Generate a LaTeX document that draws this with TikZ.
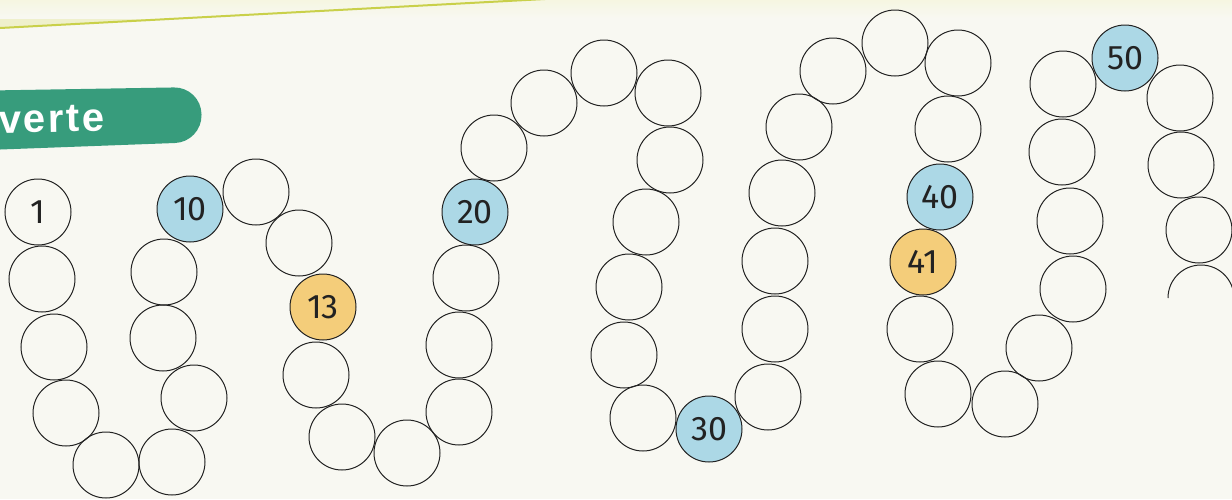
\documentclass[tikz,border=0pt]{standalone}
\usepackage{fontspec}
\setmainfont{Fira Sans}
\newfontfamily\bannerfont[LetterSpace=6]{Liberation Sans}
\definecolor{bg}{HTML}{F8F8F2}
\definecolor{topband}{HTML}{EFF0CC}
\definecolor{topline}{HTML}{C9D04A}
\definecolor{bannergreen}{HTML}{379C7C}
\definecolor{ringblue}{HTML}{ACD8E6}
\definecolor{ringorange}{HTML}{F4CD7A}
\definecolor{ink}{HTML}{222222}
\begin{document}
\begin{tikzpicture}[x=1pt,y=-1pt,
  ring/.style={circle,draw=ink,line width=1pt,minimum size=66pt,inner sep=0pt,
    font=\fontsize{34}{34}\selectfont,text=ink},
  bluering/.style={ring,fill=ringblue},
  orangering/.style={ring,fill=ringorange}]
\fill[bg] (0,0) rectangle (1232,499);
\useasboundingbox (0,0) rectangle (1232,499);
% top band and line
\fill[topband] (0,0) -- (0,28) -- (545,0) -- cycle;
\fill[top color=topband!60,bottom color=bg] (0,-1) rectangle (1232,18);
\draw[topline,line width=2pt] (0,28) -- (545,-1);
% banner
\fill[bannergreen,rounded corners=27pt] (-40,91) -- (201,87) -- (202,142) -- (-40,151) -- cycle;
\node[font=\bannerfont\bfseries\fontsize{40}{40}\selectfont,text=white,anchor=base west,rotate=1,inner sep=0pt] (banner) at (-1,133) {verte};
% plain circles
\foreach \n/\x/\y in {2/42/279,3/54/347,4/66/413,5/106/465,6/172/462,7/194/398,8/163/338,9/164/272,
  11/256/192,12/299/243,14/316/375,15/342/437,16/407/453,17/459/412,18/459/345,19/466/278,
  21/494/148,22/544/103,23/604/73,24/668/93,25/670/160,26/646/222,27/629/287,28/624/355,29/643/418,
  31/768/397,32/775/329,33/775/261,34/782/193,35/799/127,36/833/71,37/895/43,38/958/63,39/948/129,
  42/920/329,43/938/394,44/1005/404,45/1039/348,46/1073/289,47/1070/221,48/1062/152,49/1063/84,
  51/1180/98,52/1181/165,53/1199/230}
  \node[ring] (c\n) at (\x,\y) {};
% labelled circles
\node[ring] (c1) at (38,212) {1};
\node[bluering] (c10) at (190,209) {10};
\node[orangering] (c13) at (323,307) {13};
\node[bluering] (c20) at (475,212) {20};
\node[bluering] (c30) at (709,429) {30};
\node[bluering] (c40) at (940,197) {40};
\node[orangering] (c41) at (923,262) {41};
\node[bluering] (c50) at (1125,58) {50};
% partial circle at the right edge
\coordinate (c54w) at (1168,298);
\draw[ink,line width=1pt] (c54w) arc[start angle=180,end angle=0,radius=33pt];
\end{tikzpicture}
\end{document}
